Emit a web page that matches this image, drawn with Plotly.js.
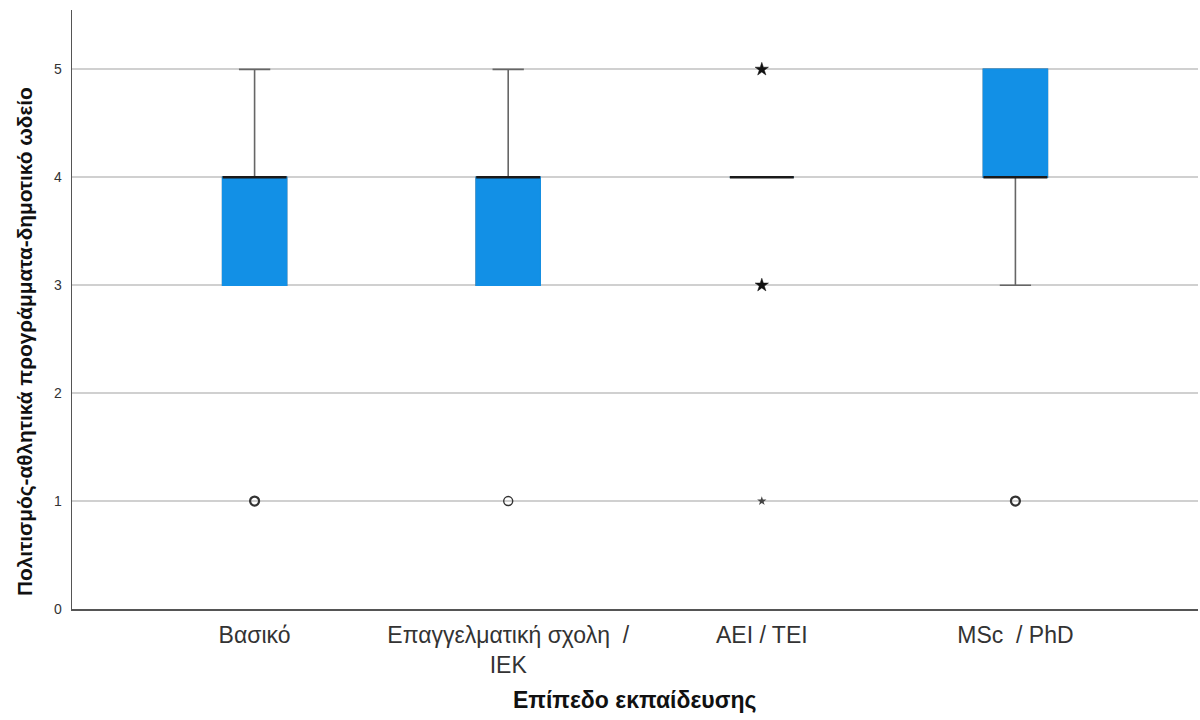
<!DOCTYPE html>
<html>
<head>
<meta charset="utf-8">
<script src="https://cdn.plot.ly/plotly-3.0.1.min.js"></script>
<style>html,body{margin:0;padding:0;background:#fff;}#chart{width:1200px;height:720px;}</style>
</head>
<body>
<div id="chart"></div>
<script>
const categories = ["Βασικό", "Επαγγελματική σχολη  /<br>IEK", "AEI / TEI", "MSc  / PhD"];
const q1 = [3, 3, 4, 4];
const median = [4, 4, 4, 4];
const q3 = [4, 4, 4, 5];
const lowerWhisker = [3, 3, 4, 3];
const upperWhisker = [5, 5, 4, 5];
// outliers (circles) and extremes (stars): category index, value
const outlierCat = [0, 1, 3];
const outlierVal = [1, 1, 1];
const extremeCat = [2, 2];
const extremeVal = [5, 3];
const smallExtremeCat = [2];
const smallExtremeVal = [1];
const yTitle = 'Πολιτισμός-αθλητικά προγράμματα-δημοτικό ωδείο';
const xTitle = 'Επίπεδο εκπαίδευσης';

const pos = categories.map((c, i) => i);
const boxW = 0.252;
const blue = '#1290e6';

const traces = [
  { // whiskers + box (gray lines)
    type: 'box', x: pos, q1: q1, median: median, q3: q3,
    lowerfence: lowerWhisker, upperfence: upperWhisker,
    width: boxW, whiskerwidth: 0.49, fillcolor: blue,
    line: {color: '#666', width: 1.6}, boxpoints: false, hoverinfo: 'skip'
  },
  { // cover box border in blue
    type: 'box', x: pos, q1: q1, median: median, q3: q3,
    lowerfence: q1, upperfence: q3,
    width: boxW, whiskerwidth: 0, fillcolor: blue,
    line: {color: blue, width: 1.6}, boxpoints: false, hoverinfo: 'skip'
  },
  { // median line black
    type: 'box', x: pos, q1: median, median: median, q3: median,
    lowerfence: median, upperfence: median,
    width: boxW, whiskerwidth: 0, fillcolor: 'rgba(0,0,0,0)',
    line: {color: '#1a1a1a', width: 2.6}, boxpoints: false, hoverinfo: 'skip'
  },
  {
    type: 'scatter', mode: 'markers', x: outlierCat, y: outlierVal,
    marker: {symbol: 'circle-open', size: 9, color: '#333',
             line: {width: [2.2, 1.4, 2.2], color: ['#333', '#666', '#333']}},
    hoverinfo: 'skip'
  },
  {
    type: 'scatter', mode: 'markers', x: extremeCat, y: extremeVal,
    marker: {symbol: 'star', size: 10, color: '#111', line: {width: 0.5, color: '#111'}},
    hoverinfo: 'skip'
  },
  {
    type: 'scatter', mode: 'markers', x: smallExtremeCat, y: smallExtremeVal,
    marker: {symbol: 'star', size: 7, color: '#444', line: {width: 0}},
    hoverinfo: 'skip'
  }
];

const layout = {
  width: 1200, height: 720,
  margin: {l: 72, r: 2, t: 10, b: 111},
  paper_bgcolor: '#fff', plot_bgcolor: '#fff',
  showlegend: false, boxmode: 'overlay',
  font: {family: '"Liberation Sans", Arial, sans-serif', color: '#333'},
  xaxis: {
    range: [-0.72, 3.72], tickvals: pos, ticktext: categories,
    showgrid: false, zeroline: false, showline: true, linecolor: '#555', linewidth: 1.5,
    ticks: '', ticklabelstandoff: 5,
    tickfont: {size: 23, color: '#333'}
  },
  yaxis: {
    range: [0, 5.55], tickvals: [0, 1, 2, 3, 4, 5],
    showgrid: true, gridcolor: '#d0d0d0', gridwidth: 1.8, zeroline: false,
    showline: true, linecolor: '#555', linewidth: 1.5,
    ticks: '', ticklabelstandoff: 6,
    tickfont: {size: 14, color: '#333'}
  },
  annotations: [
    {text: yTitle, textangle: -90, xref: 'paper', yref: 'paper',
     x: -0.0417, y: 0.4457, xanchor: 'center', yanchor: 'middle', showarrow: false,
     font: {size: 20.8, color: '#111', weight: 'bold'}},
    {text: xTitle, xref: 'paper', yref: 'paper',
     x: 0.5, y: -0.152, xanchor: 'center', yanchor: 'middle', showarrow: false,
     font: {size: 23, color: '#111', weight: 'bold'}}
  ]
};

Plotly.newPlot('chart', traces, layout, {displayModeBar: false, staticPlot: true});
</script>
</body>
</html>
